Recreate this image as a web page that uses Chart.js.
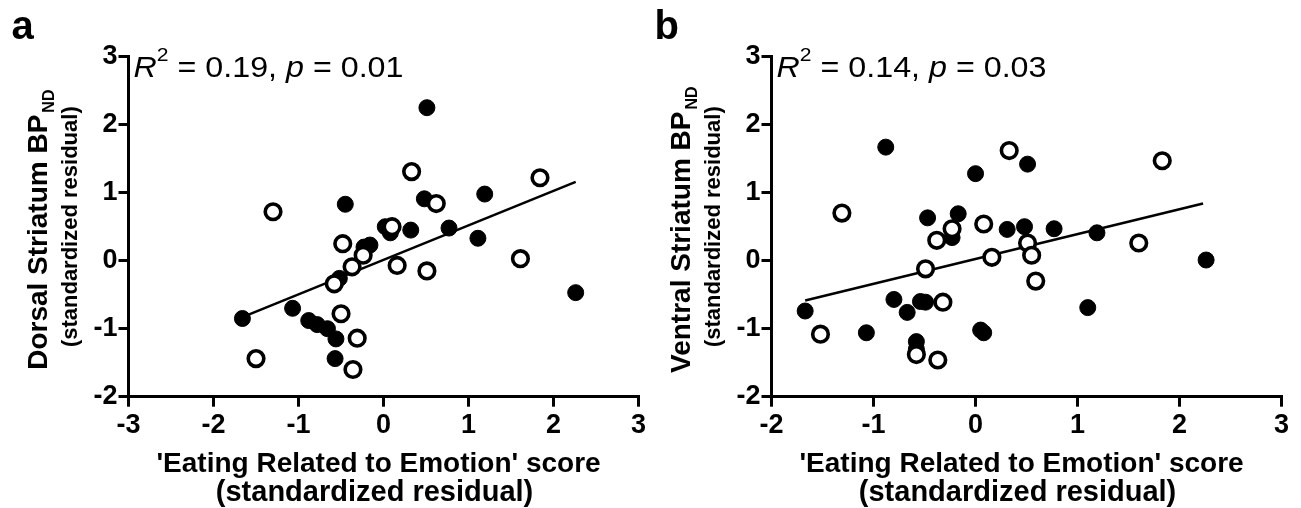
<!DOCTYPE html>
<html><head><meta charset="utf-8">
<script src="https://cdn.jsdelivr.net/npm/chart.js@4/dist/chart.umd.min.js"></script>
<style>
html,body{margin:0;padding:0;background:#fff;width:1301px;height:508px;overflow:hidden;}
.panel{position:absolute;top:0;width:650px;height:508px;}
#pa{left:0}
#pb{left:643px}
</style></head><body>
<div class="panel" id="pa"><canvas id="ca" width="650" height="508"></canvas></div>
<div class="panel" id="pb"><canvas id="cb" width="650" height="508"></canvas></div>
<script>
// ---- data ----
const xTicksA = [-3, -2, -1, 0, 1, 2, 3];
const xTicksB = [-2, -1, 0, 1, 2, 3];
const yTicks = [-2, -1, 0, 1, 2, 3];

const filledAx = [0.51, -0.45, 1.19, 0.48, 0.02, 0.08, 0.32, 0.77, 1.11, -0.16, -0.23, -0.52, 2.26, -1.66, -1.07, -0.88, -0.78, -0.66, -0.56, -0.57];
const filledAy = [2.25, 0.83, 0.98, 0.91, 0.50, 0.41, 0.45, 0.48, 0.33, 0.23, 0.20, -0.26, -0.47, -0.85, -0.70, -0.88, -0.94, -1.00, -1.15, -1.44];
const openAx = [-1.30, 0.33, 1.84, 0.62, 0.10, -0.48, -0.24, -0.37, -0.58, 0.16, 0.51, 1.61, -0.50, -0.31, -1.50, -0.36];
const openAy = [0.72, 1.31, 1.22, 0.84, 0.50, 0.25, 0.08, -0.09, -0.34, -0.07, -0.15, 0.03, -0.78, -1.14, -1.44, -1.60];
const fitAx = [-1.66, 2.26];
const fitAy = [-0.83, 1.16];

const filledBx = [-0.88, 0.00, 0.51, -0.47, -0.17, -0.23, 0.31, 0.48, 0.77, 1.19, 2.26, -1.67, -0.80, -0.67, -0.54, -0.49, -1.07, 0.05, 0.08, 1.10, -0.58, -0.58];
const filledBy = [1.67, 1.28, 1.42, 0.63, 0.69, 0.34, 0.46, 0.50, 0.47, 0.41, 0.01, -0.74, -0.57, -0.76, -0.60, -0.61, -1.06, -1.02, -1.06, -0.69, -1.19, -1.30];
const openBx = [-1.31, 0.33, 1.83, 0.08, -0.23, -0.38, -0.49, 0.16, 0.51, 0.55, 1.60, 0.59, -0.32, -1.52, -0.58, -0.37];
const openBy = [0.70, 1.62, 1.47, 0.54, 0.47, 0.30, -0.12, 0.05, 0.26, 0.08, 0.26, -0.30, -0.61, -1.08, -1.38, -1.46];
const fitBx = [-1.67, 2.23];
const fitBy = [-0.585, 0.84];

const xTitle1 = "'Eating Related to Emotion' score";
const xTitle2 = "(standardized residual)";
const yTitleA = "Dorsal Striatum BP";
const yTitleB = "Ventral Striatum BP";
const ySubscript = "ND";
const ySubTitle = "(standardized residual)";
const statsA = ["0.19", "0.01"];
const statsB = ["0.14", "0.03"];

// ---- helpers ----
const FAM = "'Liberation Sans', Arial, Helvetica, sans-serif";
Chart.defaults.font.family = FAM;
Chart.defaults.font.size = 27;
Chart.defaults.font.weight = 'bold';
Chart.defaults.color = '#000';
const pts = (xs, ys) => xs.map((x, i) => ({x: x, y: ys[i]}));

function makeDecor(letter, yMain, stats) {
  return {
    id: 'decor',
    afterDraw(chart) {
      const ctx = chart.ctx, a = chart.chartArea;
      ctx.save();
      ctx.fillStyle = '#000';
      ctx.textBaseline = 'alphabetic';
      // panel letter
      ctx.textAlign = 'left';
      ctx.font = 'bold 40px ' + FAM;
      ctx.fillText(letter, a.left - 117, 39);
      // y title main + subscript
      const fM = 'bold 28px ' + FAM, fS = 'bold 16px ' + FAM;
      ctx.font = fM; const wM = ctx.measureText(yMain).width;
      ctx.font = fS; const wS = ctx.measureText(ySubscript).width;
      const tot = wM + 2 + wS;
      const cy = (a.top + a.bottom) / 2 + 3;
      ctx.save();
      ctx.translate(a.left - 81.5, cy + tot / 2);
      ctx.rotate(-Math.PI / 2);
      ctx.font = fM; ctx.fillText(yMain, 0, 0);
      ctx.font = fS; ctx.fillText(ySubscript, wM + 2, 6.5);
      ctx.restore();
      // y subtitle
      ctx.save();
      ctx.translate(a.left - 52, (a.top + a.bottom) / 2);
      ctx.rotate(-Math.PI / 2);
      ctx.textAlign = 'center';
      ctx.font = 'bold 22px ' + FAM;
      ctx.fillText(ySubTitle, 0, 0);
      ctx.restore();
      // x title
      ctx.textAlign = 'center';
      const cx = (a.left + a.right) / 2 - 5;
      ctx.font = 'bold 28px ' + FAM;
      ctx.fillText(xTitle1, cx, 472);
      ctx.font = 'bold 29px ' + FAM;
      ctx.fillText(xTitle2, cx - 4, 501);
      // stats text
      const fN = 'normal 29px ' + FAM, fI = 'italic 29px ' + FAM, fSup = 'normal 19px ' + FAM;
      const parts = [
        {t: 'R', f: fI, dy: 0},
        {t: '2', f: fSup, dy: -16},
        {t: ' = ' + stats[0] + ', ', f: fN, dy: 0},
        {t: 'p', f: fI, dy: 0},
        {t: ' = ' + stats[1], f: fN, dy: 0}
      ];
      let total = 0;
      parts.forEach(p => { ctx.font = p.f; p.w = ctx.measureText(p.t).width; total += p.w; });
      const sx = 270 / total;
      ctx.save();
      ctx.translate(a.left + 5, 77);
      ctx.scale(sx, 1);
      ctx.textAlign = 'left';
      let px = 0;
      parts.forEach(p => { ctx.font = p.f; ctx.fillText(p.t, px, p.dy); px += p.w; });
      ctx.restore();
      ctx.restore();
    }
  };
}

function axisCommon(ticksArr, isX) {
  return {
    type: 'linear',
    min: ticksArr[0],
    max: ticksArr[ticksArr.length - 1],
    afterBuildTicks: s => { s.ticks = ticksArr.map(v => ({value: v})); },
    afterFit: isX ? (s => { s.height = 111.3; }) : (s => { s.width = 128.5; }),
    grid: {display: true, drawOnChartArea: false, drawTicks: true, tickLength: 10, color: '#000', lineWidth: 3},
    border: {display: true, color: '#000', width: 3},
    ticks: {
      color: '#000',
      font: {family: FAM, size: 27, weight: 'bold'},
      padding: isX ? 3 : 1,
      maxRotation: 0, minRotation: 0, autoSkip: false
    }
  };
}

function makeChart(id, xt, fx, fy, ox, oy, lx, ly, decor) {
  return new Chart(document.getElementById(id), {
    type: 'scatter',
    data: {
      datasets: [
        {type: 'line', data: pts(lx, ly), borderColor: '#000', borderWidth: 2.5, pointRadius: 0, fill: false, order: 3},
        {data: pts(fx, fy), backgroundColor: '#000', borderColor: '#000', borderWidth: 1, pointRadius: 8, pointHoverRadius: 8, order: 2},
        {data: pts(ox, oy), backgroundColor: '#fff', borderColor: '#000', borderWidth: 3.6, pointRadius: 7.8, pointHoverRadius: 7.8, order: 1}
      ]
    },
    options: {
      responsive: false, animation: false, devicePixelRatio: 1,
      layout: {padding: {top: 56.7, right: 10, left: 0, bottom: 0}},
      plugins: {legend: {display: false}, tooltip: {enabled: false}},
      scales: {x: axisCommon(xt, true), y: axisCommon(yTicks, false)}
    },
    plugins: [decor]
  });
}

makeChart('ca', xTicksA, filledAx, filledAy, openAx, openAy, fitAx, fitAy, makeDecor('a', yTitleA, statsA));
makeChart('cb', xTicksB, filledBx, filledBy, openBx, openBy, fitBx, fitBy, makeDecor('b', yTitleB, statsB));
</script>
</body></html>
